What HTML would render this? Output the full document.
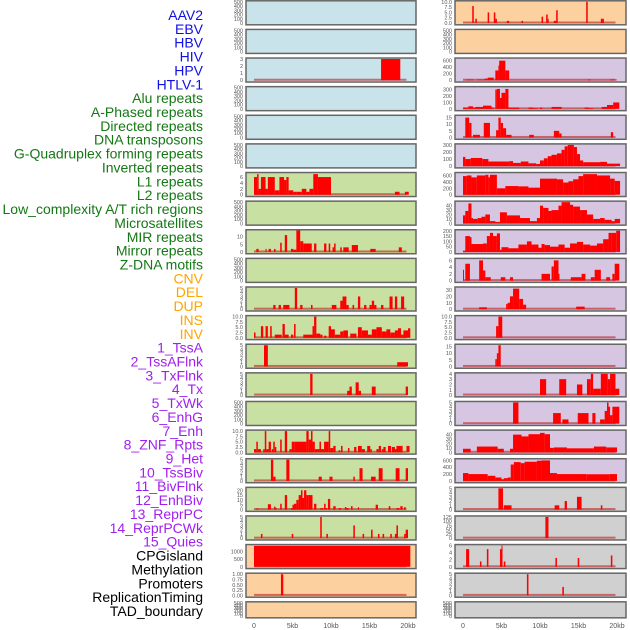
<!DOCTYPE html>
<html><head><meta charset="utf-8">
<style>
body{margin:0;background:#fff;}
svg{display:block;font-family:"Liberation Sans",sans-serif;}
</style></head>
<body>
<svg id="chart" width="630" height="630" viewBox="0 0 630 630" xmlns="http://www.w3.org/2000/svg"></svg>
<script>
// ---- labels ----
const labelNames = ["AAV2","EBV","HBV","HIV","HPV","HTLV-1","Alu repeats","A-Phased repeats","Directed repeats","DNA transposons","G-Quadruplex forming repeats","Inverted repeats","L1 repeats","L2 repeats","Low_complexity A/T rich regions","Microsatellites","MIR repeats","Mirror repeats","Z-DNA motifs","CNV","DEL","DUP","INS","INV","1_TssA","2_TssAFlnk","3_TxFlnk","4_Tx","5_TxWk","6_EnhG","7_Enh","8_ZNF_Rpts","9_Het","10_TssBiv","11_BivFlnk","12_EnhBiv","13_ReprPC","14_ReprPCWk","15_Quies","CPGisland","Methylation","Promoters","ReplicationTiming","TAD_boundary"];
const labelGroups = [6,13,5,15,5];
const groupColors = ["#1010e0","#147814","#ffa500","#a020f0","#000000"];

// ---- panel data (bars: [startKb, endKb, value]) ----
const E = [];
const emptyTicks = [0,100,200,300,400,500];
const leftBg = ["b","b","b","b","b","b","g","g","g","g","g","g","g","g","g","g","g","g","g","o","o","o"];
const rightBg = ["o","o","p","p","p","p","p","p","p","p","p","p","p","p","p","p","p","x","x","x","x","x"];
const leftMax = [500,500,3,500,500,500,7.2,500,13.8,500,5,10,5,5,500,10,5,22,5,1400,1,500];
const rightMax = [10,500,650,330,16,300,660,48,200,6.3,33,10,16,4,5,48,620,5,125,6,5,500];
const leftTicks = [emptyTicks,emptyTicks,[0,1,2,3],emptyTicks,emptyTicks,emptyTicks,[0,2,4,6],emptyTicks,[0,5,10],emptyTicks,[0,1,2,3,4,5],[0,2.5,5,7.5,10],[0,1,2,3,4,5],[0,1,2,3,4,5],emptyTicks,[0,2.5,5,7.5,10],[0,1,2,3,4,5],[0,5,10,15,20],[0,1,2,3,4,5],[0,500,1000],[0,0.25,0.5,0.75,1],emptyTicks];
const rightTicks = [[0,2.5,5,7.5,10],emptyTicks,[0,200,400,600],[0,100,200,300],[0,5,10,15],[0,100,200,300],[0,200,400,600],[0,10,20,30,40],[0,50,100,150,200],[0,2,4,6],[0,10,20,30],[0,2.5,5,7.5,10],[0,5,10,15],[0,1,2,3,4],[0,1,2,3,4,5],[0,10,20,30,40],[0,200,400,600],[0,1,2,3,4,5],[0,25,50,75,100,125],[0,2,4,6],[0,1,2,3,4,5],emptyTicks];

const leftBars = [
E,E,
[[16.5,19,3]],
E,E,E,
[[0,0.4,6],[0.4,0.6,7],[0.6,0.9,2],[0.9,1.5,6],[1.5,1.8,2],[1.8,2.7,6],[2.7,3.3,1.5],[3.3,3.9,6],[3.9,4.2,5],[4.2,4.5,6],[4.5,5.1,1.5],[5.1,5.5,1],[5.5,6.2,1],[6.2,6.8,2],[6.8,7.2,1],[7.2,7.7,2],[7.7,8.3,7],[8.3,10,6],[18.3,18.9,1],[19.6,20.1,1]],
E,
[[0.3,0.6,2],[1.5,1.6,2],[1.9,2.2,2],[2.6,2.8,2],[3.4,3.6,6],[4.0,4.3,11],[4.8,5.1,2],[5.1,5.5,1.5],[5.5,6.0,14],[6.0,6.4,7],[6.4,7.5,5.5],[7.8,8.1,5.5],[9.1,9.4,5.5],[9.7,9.9,5.5],[10.2,10.4,3],[10.4,10.6,5.5],[11.2,11.4,3],[11.6,12.3,3],[12.7,13.5,4.5],[15.1,15.8,2],[18.8,19.2,3]],
E,
[[2.5,2.8,1],[3.2,3.5,1],[3.8,4.6,1],[5.3,5.6,5],[6,6.3,1],[7.4,7.6,1],[10.1,10.7,1],[11.2,11.5,2],[11.5,12,3],[12,12.3,1],[12.8,13,1],[13.5,13.8,3],[14.3,14.6,1],[15,15.3,1],[15.3,15.6,2],[15.6,15.9,1],[16.5,16.8,1],[17.6,18,3],[18.3,18.6,3],[19.1,19.5,3]],
[[0,0.2,2.5],[0.9,1.2,5.5],[1.5,1.8,5.5],[2.1,2.3,5.5],[2.7,3.6,1.5],[3.7,4.0,6.5],[4.0,4.5,1.5],[4.8,5.1,1.5],[5.2,5.4,6.5],[6.4,7.6,1.5],[7.6,7.8,5.5],[7.8,8.1,10],[8.1,8.6,2],[8.6,8.9,1.5],[9.1,9.4,1],[9.7,10.0,5.5],[10.0,10.5,4],[10.5,11.2,1.5],[11.2,11.6,3],[11.6,12.2,3.5],[12.5,12.8,2],[12.8,13.3,2],[13.5,14.0,5],[14.0,14.8,3.5],[14.8,15.3,1.5],[15.3,15.9,4],[15.9,16.6,5],[16.6,17.2,3],[17.2,17.7,4],[17.7,18.3,2.5],[18.3,18.7,3.5],[18.7,19.1,4.5],[19.1,19.4,1.5],[19.4,20.0,3.5],[20.0,20.3,4.5]],
[[1.3,1.8,5],[18.6,20,1]],
[[7.3,7.6,5],[12.1,12.4,1],[12.4,12.7,2],[13.2,13.6,3],[13.6,13.9,1],[15.3,15.8,2],[19.7,20,2]],
E,
[[0,0.3,1.5],[0.3,0.5,5],[0.5,0.9,1.5],[1.2,1.4,1.5],[1.4,1.6,10],[1.6,1.9,1.5],[1.9,2.2,5],[2.3,2.5,1.5],[2.5,2.7,5],[2.7,2.9,2.5],[3.4,3.6,6],[4.0,4.3,10],[4.6,4.9,1.5],[4.9,5.3,5],[5.3,6.8,5],[6.8,7.1,10],[7.1,7.4,6],[7.4,7.6,10],[7.6,7.9,5],[7.9,8.5,1.5],[8.5,8.7,5],[8.7,9.1,1.5],[9.1,9.7,5],[9.7,9.9,10],[9.9,10.3,2],[10.3,10.6,3],[11.0,11.2,1],[11.3,11.5,3],[12.2,12.4,2],[13.0,13.3,2.5],[13.5,14.0,3],[14.0,14.4,1.5],[14.7,15.1,3],[15.1,15.3,1.5],[15.9,16.2,1.5],[16.2,16.5,3],[16.6,16.8,1.5],[16.8,17.1,2.5],[17.4,17.8,3],[17.9,18.3,2.5],[18.3,18.5,1.5],[18.5,19.3,3],[19.8,20.2,3]],
[[2.2,2.5,5],[2.5,2.8,1],[4.2,4.6,5],[8.4,8.8,1],[9.8,10.2,1],[12.9,13.1,1],[13.7,14.1,3],[15.2,15.8,1],[16.2,16.7,3],[18.4,18.9,3],[19.7,20,3]],
[[0.3,0.6,1],[1.8,2.2,5.5],[2.6,2.8,3],[2.8,2.9,1.5],[3.4,3.6,6],[4.0,4.3,15],[4.8,5.0,1.5],[5.0,5.2,5],[5.2,5.5,6],[5.5,5.8,10],[5.8,6.1,15],[6.1,6.3,20],[6.3,6.5,12],[6.5,6.8,20],[6.8,7.1,15],[7.1,7.6,15],[7.8,8.1,6],[8.6,9.0,1.5],[9.1,9.3,6],[9.3,9.5,1.5],[9.6,9.9,11],[10.3,10.6,3.5],[11.0,11.3,1.5],[11.8,12.0,2.5],[12.0,12.3,1.5],[12.6,12.8,3.5],[13.5,13.6,2.5],[15.8,16.1,5],[17.5,17.7,3.5],[18.5,18.9,1.5],[19.0,19.3,3.5],[19.5,19.7,2.5]],
[[0.9,1.1,1],[4.9,5.1,1],[8.6,8.8,5],[9.4,9.6,1],[12.9,13.1,3],[14.1,14.3,1],[15.2,15.4,2],[16.1,16.3,1],[16.7,16.9,1],[17.7,17.9,1],[18.3,18.5,1],[18.5,18.7,3],[19.5,19.7,1],[19.7,20,2]],
[[0,20.3,1380]],
[[3.5,3.8,1]],
E
];

const rightBars = [
[[1.2,1.4,8],[1.6,1.8,2],[3.2,3.4,5],[4.0,4.2,5],[4.2,4.4,2],[5.7,6.0,1],[7.6,7.8,1],[10.2,10.4,3],[10.8,11.0,4],[11.0,11.1,2],[11.8,12.1,1],[12.1,12.3,6],[16.0,16.2,10],[17.9,18.1,2],[18.1,18.3,2]],
E,
[[0.4,1.4,20],[1.8,2.8,20],[2.8,3.2,50],[3.2,4.0,80],[4.2,4.6,300],[4.6,4.7,450],[4.7,5.5,600],[5.5,6.0,300],[16.2,16.6,20],[19.1,20,20]],
[[0,0.7,20],[0.7,1.3,40],[1.3,1.6,20],[1.6,2.6,30],[2.6,3.7,50],[3.7,4.0,20],[4.2,4.4,300],[4.4,4.8,310],[4.8,5.0,170],[5.0,5.5,250],[5.5,5.9,310],[5.9,7.3,20],[8.5,9.1,20],[9.1,9.7,10],[10.0,10.3,20],[11.5,12.8,30],[15.8,16.3,20],[16.3,16.9,10],[18.0,18.7,30],[18.7,19.5,60],[19.5,20.3,100]],
[[0.3,0.8,15],[0.8,1.1,11],[1.3,2.2,2],[2.7,3.5,11],[4.3,4.6,5.5],[4.6,4.9,15],[4.9,5.2,11],[5.2,5.6,7],[5.6,6.3,2],[8.6,9.2,2],[11.8,12.5,5],[12.5,12.8,3],[19.2,19.5,4]],
[[0,0.3,130],[0.3,1,100],[1,2.5,115],[2.5,3.3,100],[3.3,6,65],[6,6.5,70],[6.5,7.5,45],[7.5,8.5,65],[8.5,9.5,40],[9.5,10,30],[10,10.5,80],[10.5,11,110],[11,11.5,140],[11.5,12.2,160],[12.2,12.8,180],[12.8,13.2,230],[13.2,13.6,280],[13.6,14.4,300],[14.4,14.8,270],[14.8,15.2,170],[15.2,15.6,80],[15.6,17.8,55],[17.8,18.7,60],[18.7,20.4,35]],
[[0,0.5,580],[0.5,1.1,600],[1.1,1.8,540],[1.8,2.9,600],[2.9,3.3,620],[3.3,3.5,540],[3.5,4.4,620],[4.4,5.5,200],[5.5,7.2,270],[7.2,8.5,260],[8.5,10.0,220],[10,12.2,500],[12.2,13.0,480],[13.0,13.7,380],[13.7,14.3,420],[14.3,15.0,480],[15.0,15.6,580],[15.6,17.4,640],[17.4,19.1,600],[19.1,19.7,500],[19.7,20.4,430]],
[[0,0.3,18],[0.3,0.7,28],[0.7,1.1,45],[1.1,1.3,12],[1.3,1.9,10],[1.9,2.4,12],[2.4,2.9,15],[2.9,3.5,20],[3.5,4.2,5],[4.2,4.8,3],[4.8,5.7,25],[5.7,7.4,18],[7.4,8.7,12],[8.7,9.6,5],[9.6,10.0,12],[10.0,10.4,40],[10.4,11.1,35],[11.1,11.5,28],[11.5,12.4,30],[12.4,12.8,40],[12.8,13.9,48],[13.9,14.3,42],[14.3,15.2,38],[15.2,16.1,30],[16.1,16.9,20],[16.9,17.8,10],[17.8,18.4,12],[18.4,19.3,8],[19.3,19.7,5],[19.7,20.4,10]],
[[0,0.3,10],[0.3,0.9,150],[0.9,1.1,140],[1.1,2.6,75],[2.6,3.1,80],[3.1,3.5,150],[3.5,3.9,180],[3.9,4.4,150],[4.4,4.8,175],[4.8,5.0,20],[5.0,5.9,45],[5.9,7.2,35],[7.2,8.3,70],[8.3,8.9,100],[8.9,9.8,70],[9.8,10.2,40],[10.2,10.6,75],[10.6,11.3,65],[11.3,12.4,50],[12.4,13.2,70],[13.2,13.9,40],[13.9,14.8,80],[14.8,15.6,95],[15.6,16.5,70],[16.5,17.4,60],[17.4,18.2,80],[18.2,18.9,120],[18.9,19.3,180],[19.3,19.9,180],[19.9,20.4,200]],
[[0,0.1,3.2],[0.3,0.9,5],[2.1,2.6,6],[2.6,2.9,3],[2.9,3.6,1],[4.9,5.5,1],[6.1,6.5,1],[10.2,11.3,2],[11.5,11.8,4.2],[11.8,12.4,6],[12.4,12.5,2],[14.0,15.4,1],[15.4,15.9,2],[16.6,17.1,1],[17.1,17.9,3.2],[18.6,19.1,1],[19.4,19.7,2],[19.7,20.3,5]],
[[2.1,3.1,3],[5.6,5.8,8],[5.8,6.1,10],[6.1,6.5,20],[6.5,7.3,32],[7.3,7.8,16],[7.8,8.2,7],[14.7,15.8,4]],
[[4.3,4.6,5.5],[4.6,5.1,10]],
[[4.2,4.4,5.5],[4.4,4.6,10],[4.6,4.9,16]],
[[10,10.8,3],[12.5,13.4,3],[14.8,15.5,2],[16.1,16.6,3],[16.6,16.9,4],[16.9,17.9,1.2],[17.9,18.8,4],[18.8,19.1,3],[19.1,19.8,4],[19.8,20.3,1.2]],
[[6.5,7.2,5],[11.7,12.7,2.5],[12.9,13.7,1],[14.9,16.3,2.5],[16.8,17.2,2.5],[17.8,18.4,1],[18.4,18.7,3],[18.7,18.9,5],[18.9,19.1,4],[19.1,19.4,2],[19.4,20.3,4]],
[[0,1,8],[1.8,4.5,13],[4.5,5.3,8],[6.1,6.5,8],[6.5,7.6,40],[7.6,8.5,36],[8.5,10,41],[10,10.6,44],[10.6,11.3,41],[11.3,11.8,10],[11.8,13.5,11],[13.5,17,9],[17,18.6,13],[18.6,20,11]],
[[0,0.7,230],[0.7,3.2,200],[3.2,4.2,150],[4.2,5.0,100],[5.0,5.3,50],[5.3,5.8,80],[5.8,6.2,100],[6.2,6.6,480],[6.6,7.5,550],[7.5,8,520],[8,9.6,560],[9.6,10.2,590],[10.2,11.3,600],[11.3,12.2,230],[12.2,16,200],[16,19,195],[19,20,200]],
[[4.6,5.2,5],[5.3,6.3,1],[11.9,12.5,1],[13.2,13.5,2],[14.8,15.4,3],[17.9,18.1,1]],
[[10.7,11.1,125]],
[[0.4,0.8,5],[2.2,2.4,1.5],[3.1,3.3,5],[4.8,5.0,5],[5.0,5.1,6],[5.3,5.5,1.5],[12.0,12.2,2.5],[14.9,15.1,2.5],[19.2,19.4,3.2]],
[[8.3,8.5,5],[12.9,13.1,2]],
E
];

const xTickVals = [0,5,10,15,20];
const xTickText = ["0","5kb","10kb","15kb","20kb"];

// ---- drawing ----
const NS = "http://www.w3.org/2000/svg";
const svg = document.getElementById("chart");
const bgColors = {b:"#c9e3ea",g:"#c8e0a2",o:"#fdd09f",p:"#d6c6e2",x:"#d0d0d0"};
function mk(tag, attrs, parent){
  const el = document.createElementNS(NS, tag);
  for (const k in attrs) el.setAttribute(k, attrs[k]);
  (parent||svg).appendChild(el);
  return el;
}
// labels
let li = 0;
labelGroups.forEach((n, g) => {
  for (let k = 0; k < n; k++) {
    const t = mk("text", {x:203, y:15 + li*13.86 + 5, "text-anchor":"end", "font-size":"14", fill:groupColors[g]});
    
    
    t.textContent = labelNames[li];
    li++;
  }
});

const cols = [
  {x0:246, x1:416, z0:254, z20:408, tickX:243, bars:leftBars, max:leftMax, ticks:leftTicks, bg:leftBg, name:"left"},
  {x0:455, x1:626, z0:463, z20:617, tickX:452, bars:rightBars, max:rightMax, ticks:rightTicks, bg:rightBg, name:"right"}
];
cols.forEach(c => {
  const xs = kb => c.z0 + (c.z20 - c.z0) * kb / 20;
  for (let i = 0; i < 22; i++) {
    const top = 0.8 + i * 28.62;
    const h = i === 21 ? 16 : 24;
    const zeroY = top + h - 1.8;
    const ys = v => zeroY - (zeroY - top - 1) * v / c.max[i];
    const g = mk("g", {});
    
    
    const r = mk("rect", {x:c.x0, y:top, width:c.x1-c.x0, height:h, fill:bgColors[c.bg[i]], stroke:"#666", "stroke-width":1.5}, g);
    
    
    const bars = c.bars[i];
    if (bars.length) {
      const bl = mk("rect", {x:xs(0), y:zeroY-1.5, width:xs(19.8)-xs(0), height:2, fill:"rgba(190,30,30,0.6)"}, g);
      
      
    }
    bars.forEach(b => {
      const y = ys(b[2]);
      const br = mk("rect", {x:xs(b[0]), y:y, width:Math.max(xs(b[1])-xs(b[0]),1), height:zeroY-y, fill:"#ff0000"}, g);
      
      
    });
    c.ticks[i].forEach(v => {
      const t = mk("text", {x:c.tickX, y:ys(v)+2, "text-anchor":"end", "font-size":"5.5", fill:"#555"}, g);
      
      
      t.textContent = (c.ticks[i].some(x=>x%1!==0) && c.ticks[i].length>3) ? (Number.isInteger(v)&&c.max[i]<=1.01?v.toFixed(2):(c.max[i]<=1.01?v.toFixed(2):v.toFixed(1))) : String(v);
    });
  }
  xTickVals.forEach((v, k) => {
    const t = mk("text", {x:xs(v), y:628, "text-anchor":"middle", "font-size":"7", fill:"#555"});
    
    
    t.textContent = xTickText[k];
  });
});
</script>
</body></html>
